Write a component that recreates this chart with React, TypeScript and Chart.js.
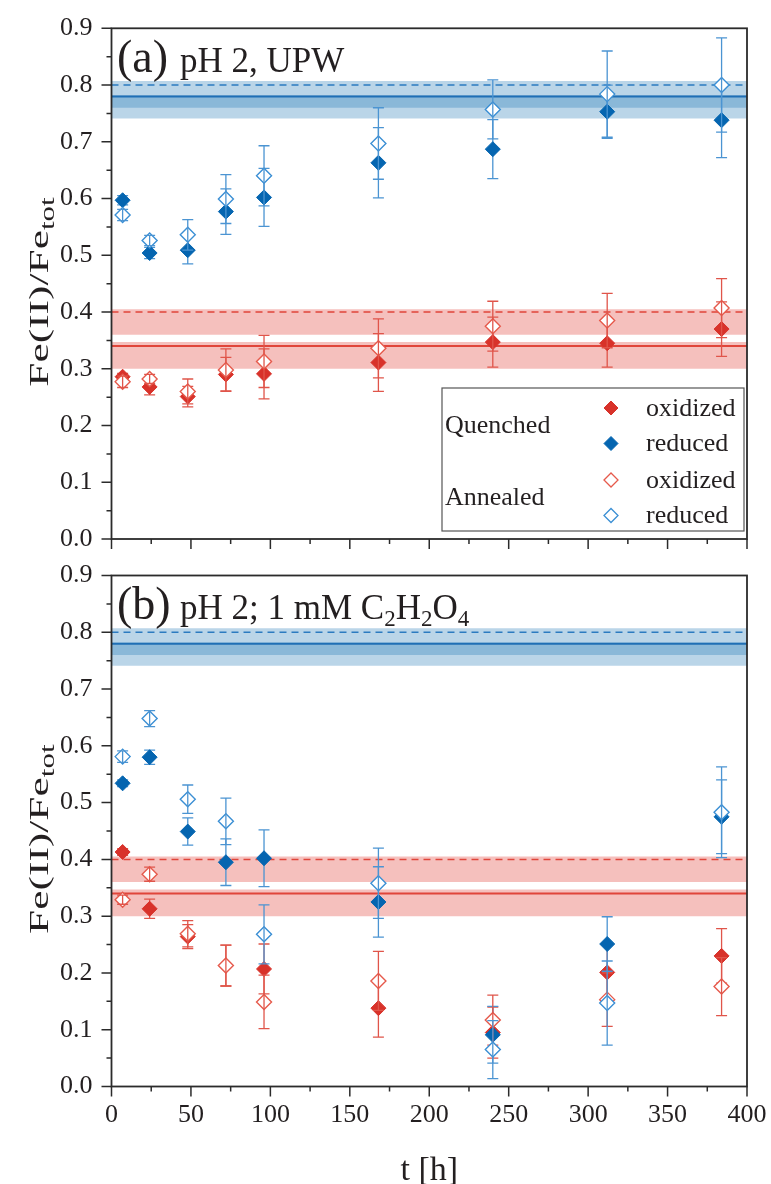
import React, { useEffect, useRef } from "react";
import { Chart, registerables } from "chart.js";

Chart.register(...registerables);

// ---------- data ----------
const times = [7, 24, 48, 72, 96, 168, 240, 312, 384];
const xRange = [0, 400];
const yRange = [0, 0.9];

// Panel (a): pH 2, UPW
const aQuenchedOxidized = [0.286, 0.268, 0.251, 0.29, 0.291, 0.311, 0.347, 0.345, 0.37];
const aQuenchedOxidizedErr = [0.006, 0.014, 0.018, 0.03, 0.044, 0.051, 0.044, 0.042, 0.048];
const aQuenchedReduced = [0.597, 0.504, 0.509, 0.577, 0.602, 0.663, 0.687, 0.753, 0.738];
const aQuenchedReducedErr = [0.008, 0.01, 0.024, 0.04, 0.051, 0.062, 0.052, 0.047, 0.066];
const aAnnealedOxidized = [0.277, 0.282, 0.26, 0.298, 0.313, 0.336, 0.375, 0.385, 0.407];
const aAnnealedOxidizedErr = [0.01, 0.008, 0.022, 0.037, 0.046, 0.052, 0.044, 0.048, 0.052];
const aAnnealedReduced = [0.571, 0.526, 0.536, 0.599, 0.64, 0.697, 0.757, 0.784, 0.8];
const aAnnealedReducedErr = [0.01, 0.009, 0.027, 0.043, 0.053, 0.063, 0.052, 0.076, 0.083];

// Panel (b): pH 2; 1 mM C2H2O4
const bQuenchedOxidized = [0.413, 0.313, 0.264, 0.213, 0.207, 0.138, 0.095, 0.201, 0.23];
const bQuenchedOxidizedErr = [0.006, 0.017, 0.021, 0.036, 0.044, 0.051, 0.045, 0.048, 0.048];
const bQuenchedReduced = [0.534, 0.58, 0.449, 0.395, 0.402, 0.325, 0.091, 0.251, 0.475];
const bQuenchedReducedErr = [0.006, 0.0125, 0.024, 0.041, 0.05, 0.062, 0.05, 0.048, 0.065];
const bAnnealedOxidized = [0.329, 0.374, 0.269, 0.213, 0.149, 0.186, 0.117, 0.153, 0.176];
const bAnnealedOxidizedErr = [0.008, 0.0125, 0.023, 0.036, 0.047, 0.052, 0.044, 0.047, 0.051];
const bAnnealedReduced = [0.581, 0.648, 0.506, 0.467, 0.268, 0.358, 0.065, 0.147, 0.483];
const bAnnealedReducedErr = [0.01, 0.014, 0.025, 0.041, 0.052, 0.062, 0.051, 0.074, 0.08];

// Reference levels and bands (both panels)
const oxidizedRefSolid = 0.34;
const oxidizedRefDashed = 0.4;
const reducedRefSolid = 0.78;
const reducedRefDashed = 0.8;
const oxidizedBandSolid = [0.3, 0.347];
const oxidizedBandDashed = [0.36, 0.405];
const reducedBandSolid = [0.741, 0.782];
const reducedBandDashed = [0.76, 0.807];

// ---------- styles ----------
const FONT = '"Liberation Serif", "Times New Roman", serif';
const TEXT = "#231f20";
const RED = "#d8322a";
const BLUE = "#0565b0";
const RED_OPEN = "#e65a4c";
const BLUE_OPEN = "#3b8fd4";
const RED_ERR = "#e0554a";
const BLUE_ERR = "#4b94d2";

const W = 771;
const PLOT_LEFT = 111.5;
const PLOT_RIGHT = 747;

function points(ys: number[], errs: number[]) {
  return times.map((t, i) => ({ x: t, y: ys[i], e: errs[i] }));
}

function markerSet(label: string, ys: number[], errs: number[], open: boolean, color: string, errColor: string, order: number) {
  return {
    type: "scatter",
    label,
    data: points(ys, errs),
    errorColor: errColor,
    errorOnTop: open,
    pointStyle: "rectRot",
    pointRadius: 7.5,
    pointHoverRadius: 7.5,
    pointBorderWidth: open ? 1.4 : 1,
    pointBackgroundColor: open ? "#ffffff" : color,
    pointBorderColor: color,
    showLine: false,
    order,
  };
}

function bandSet(band: number[], color: string) {
  return {
    type: "line",
    data: [
      { x: xRange[0], y: band[1] },
      { x: xRange[1], y: band[1] },
    ],
    fill: { value: band[0] },
    backgroundColor: color,
    borderWidth: 0,
    pointRadius: 0,
    order: 20,
  };
}

function levelSet(v: number, color: string, dashed: boolean) {
  return {
    type: "line",
    data: [
      { x: xRange[0], y: v },
      { x: xRange[1], y: v },
    ],
    fill: false,
    borderColor: color,
    borderWidth: dashed ? 1.5 : 2,
    borderDash: dashed ? [7, 5] : [],
    pointRadius: 0,
    order: 15,
  };
}

function drawErrors(chart: any, index: number) {
  const ds = chart.data.datasets[index];
  if (!ds.errorColor) return;
  const ctx = chart.ctx;
  const xs = chart.scales.x;
  const ys = chart.scales.y;
  ctx.save();
  ctx.strokeStyle = ds.errorColor;
  ctx.lineWidth = 1.3;
  ds.data.forEach((p: any) => {
    const x = xs.getPixelForValue(p.x);
    const y1 = ys.getPixelForValue(p.y + p.e);
    const y2 = ys.getPixelForValue(p.y - p.e);
    ctx.beginPath();
    ctx.moveTo(x, y1);
    ctx.lineTo(x, y2);
    ctx.moveTo(x - 5.5, y1);
    ctx.lineTo(x + 5.5, y1);
    ctx.moveTo(x - 5.5, y2);
    ctx.lineTo(x + 5.5, y2);
    ctx.stroke();
  });
  ctx.restore();
}

const errorBarPlugin = {
  id: "errorBars",
  beforeDatasetDraw(chart: any, args: any) {
    const ds = chart.data.datasets[args.index];
    if (ds.errorColor && !ds.errorOnTop) drawErrors(chart, args.index);
  },
  afterDatasetDraw(chart: any, args: any) {
    const ds = chart.data.datasets[args.index];
    if (ds.errorColor && ds.errorOnTop) drawErrors(chart, args.index);
  },
};

const framePlugin = {
  id: "frame",
  afterDraw(chart: any) {
    const { ctx, chartArea } = chart;
    const xs = chart.scales.x;
    const ys = chart.scales.y;
    ctx.save();
    ctx.strokeStyle = "#2b2b2b";
    ctx.lineWidth = 1.8;
    ctx.strokeRect(chartArea.left, chartArea.top, chartArea.right - chartArea.left, chartArea.bottom - chartArea.top);
    ctx.lineWidth = 1.5;
    ctx.beginPath();
    for (let i = 0; i <= 18; i++) {
      const y = ys.getPixelForValue((i * 0.9) / 18);
      const len = i % 2 === 0 ? 10 : 5;
      ctx.moveTo(chartArea.left, y);
      ctx.lineTo(chartArea.left - len, y);
    }
    for (let i = 0; i <= 16; i++) {
      const x = xs.getPixelForValue((i * 400) / 16);
      const len = i % 2 === 0 ? 10 : 5;
      ctx.moveTo(x, chartArea.bottom);
      ctx.lineTo(x, chartArea.bottom + len);
    }
    ctx.stroke();
    ctx.restore();
  },
};

type Part = { t: string; size: number; dy?: number };

function drawRich(ctx: any, parts: Part[], x: number, y: number) {
  let cx = x;
  parts.forEach((p) => {
    ctx.font = `${p.size}px ${FONT}`;
    ctx.fillText(p.t, cx, y + (p.dy || 0));
    cx += ctx.measureText(p.t).width;
  });
}

function drawYTitle(ctx: any, cx: number, cy: number) {
  ctx.save();
  ctx.translate(cx, cy);
  ctx.rotate(-Math.PI / 2);
  ctx.scale(1.55, 1);
  ctx.fillStyle = TEXT;
  ctx.textBaseline = "alphabetic";
  ctx.textAlign = "left";
  ctx.font = `28px ${FONT}`;
  const w1 = ctx.measureText("Fe(II)/Fe").width;
  ctx.font = `20px ${FONT}`;
  const w2 = ctx.measureText("tot").width;
  drawRich(
    ctx,
    [
      { t: "Fe(II)/Fe", size: 28 },
      { t: "tot", size: 20, dy: 6 },
    ],
    -(w1 + w2) / 2,
    0
  );
  ctx.restore();
}

function diamond(ctx: any, x: number, y: number, r: number, fill: string, stroke: string, lw: number) {
  ctx.beginPath();
  ctx.moveTo(x - r, y);
  ctx.lineTo(x, y - r);
  ctx.lineTo(x + r, y);
  ctx.lineTo(x, y + r);
  ctx.closePath();
  ctx.fillStyle = fill;
  ctx.fill();
  ctx.lineWidth = lw;
  ctx.strokeStyle = stroke;
  ctx.stroke();
}

function makeTextPlugin(panel: "a" | "b") {
  return {
    id: "texts" + panel,
    afterDraw(chart: any) {
      const ctx = chart.ctx;
      const top = chart.chartArea.top;
      ctx.save();
      ctx.fillStyle = TEXT;
      ctx.textBaseline = "alphabetic";
      ctx.textAlign = "left";
      const base = top + 43.7;
      if (panel === "a") {
        drawRich(ctx, [{ t: "(a)", size: 46 }], 117, base);
        drawRich(ctx, [{ t: "pH 2, UPW", size: 35 }], 180, base);
      } else {
        drawRich(ctx, [{ t: "(b)", size: 46 }], 117, base);
        drawRich(
          ctx,
          [
            { t: "pH 2; 1 mM C", size: 35 },
            { t: "2", size: 23, dy: 7 },
            { t: "H", size: 35 },
            { t: "2", size: 23, dy: 7 },
            { t: "O", size: 35 },
            { t: "4", size: 23, dy: 7 },
          ],
          180,
          base
        );
      }
      drawYTitle(ctx, 48, top + 263.7);

      if (panel === "a") {
        // legend
        ctx.strokeStyle = "#555";
        ctx.lineWidth = 1.2;
        ctx.strokeRect(442, 388, 302, 143);
        ctx.fillStyle = TEXT;
        drawRich(ctx, [{ t: "Quenched", size: 26 }], 445, 433);
        drawRich(ctx, [{ t: "Annealed", size: 26 }], 445, 505);
        const rows = [
          { y: 408, t: "oxidized", fill: RED, stroke: RED, lw: 1 },
          { y: 443.5, t: "reduced", fill: BLUE, stroke: BLUE, lw: 1 },
          { y: 480, t: "oxidized", fill: "#fff", stroke: RED_OPEN, lw: 1.3 },
          { y: 515.5, t: "reduced", fill: "#fff", stroke: BLUE_OPEN, lw: 1.3 },
        ];
        rows.forEach((r) => {
          diamond(ctx, 611, r.y, 7, r.fill, r.stroke, r.lw);
          ctx.fillStyle = TEXT;
          drawRich(ctx, [{ t: r.t, size: 26 }], 646, r.y + 7.5);
        });
      } else {
        ctx.textAlign = "center";
        ctx.font = `34px ${FONT}`;
        ctx.fillText("t [h]", (PLOT_LEFT + PLOT_RIGHT) / 2, 620);
      }
      ctx.restore();
    },
  };
}

function makeConfig(panel: "a" | "b", height: number) {
  const isA = panel === "a";
  const qo = isA ? aQuenchedOxidized : bQuenchedOxidized;
  const qoe = isA ? aQuenchedOxidizedErr : bQuenchedOxidizedErr;
  const qr = isA ? aQuenchedReduced : bQuenchedReduced;
  const qre = isA ? aQuenchedReducedErr : bQuenchedReducedErr;
  const ao = isA ? aAnnealedOxidized : bAnnealedOxidized;
  const aoe = isA ? aAnnealedOxidizedErr : bAnnealedOxidizedErr;
  const ar = isA ? aAnnealedReduced : bAnnealedReduced;
  const are = isA ? aAnnealedReducedErr : bAnnealedReducedErr;

  const top = isA ? 28.3 : 15.5;
  const plotBottom = isA ? 539 : 526.5;
  const xHeight = height - plotBottom;

  return {
    type: "scatter",
    data: {
      datasets: [
        bandSet(reducedBandSolid, "rgba(31,119,180,0.31)"),
        bandSet(reducedBandDashed, "rgba(31,119,180,0.31)"),
        bandSet(oxidizedBandSolid, "rgba(224,60,50,0.32)"),
        bandSet(oxidizedBandDashed, "rgba(224,60,50,0.32)"),
        levelSet(reducedRefSolid, "#1f6fb5", false),
        levelSet(reducedRefDashed, "#2b7bc0", true),
        levelSet(oxidizedRefSolid, "#e0453a", false),
        levelSet(oxidizedRefDashed, "#e0453a", true),
        markerSet("Quenched oxidized", qo, qoe, false, RED, RED_ERR, 4),
        markerSet("Quenched reduced", qr, qre, false, BLUE, BLUE_ERR, 3),
        markerSet("Annealed oxidized", ao, aoe, true, RED_OPEN, RED_ERR, 2),
        markerSet("Annealed reduced", ar, are, true, BLUE_OPEN, BLUE_ERR, 1),
      ],
    },
    options: {
      animation: false,
      responsive: false,
      maintainAspectRatio: false,
      devicePixelRatio: 1,
      layout: { padding: { left: 0, right: W - PLOT_RIGHT, top, bottom: 0 } },
      plugins: {
        legend: { display: false },
        tooltip: { enabled: false },
      },
      scales: {
        x: {
          type: "linear",
          min: xRange[0],
          max: xRange[1],
          afterFit: (s: any) => {
            s.height = xHeight;
          },
          grid: { display: false, drawTicks: true, tickLength: 13 },
          border: { display: false },
          ticks: {
            display: !isA,
            stepSize: 50,
            autoSkip: false,
            maxRotation: 0,
            padding: 0,
            color: TEXT,
            font: { family: FONT, size: 26 },
          },
        },
        y: {
          type: "linear",
          min: yRange[0],
          max: yRange[1],
          afterFit: (s: any) => {
            s.width = PLOT_LEFT;
          },
          grid: { display: false, drawTicks: true, tickLength: 19 },
          border: { display: false },
          ticks: {
            stepSize: 0.1,
            autoSkip: false,
            padding: 0,
            color: TEXT,
            font: { family: FONT, size: 26, lineHeight: 1.1 },
            callback: (v: any) => Number(v).toFixed(1),
          },
        },
      },
    },
    plugins: [errorBarPlugin, framePlugin, makeTextPlugin(panel)],
  };
}

function Panel({ panel, top, height }: { panel: "a" | "b"; top: number; height: number }) {
  const ref = useRef<HTMLCanvasElement | null>(null);
  useEffect(() => {
    if (!ref.current) return;
    const chart = new Chart(ref.current, makeConfig(panel, height) as any);
    return () => chart.destroy();
  }, [panel, height]);
  return (
    <canvas
      ref={ref}
      width={W}
      height={height}
      style={{ position: "absolute", left: 0, top, width: W, height, display: "block" }}
    />
  );
}

export default function App() {
  return (
    <div
      style={{
        position: "absolute",
        left: 0,
        top: 0,
        width: W,
        height: 1184,
        overflow: "hidden",
        background: "#ffffff",
      }}
    >
      <Panel panel="a" top={0} height={560} />
      <Panel panel="b" top={560} height={624} />
    </div>
  );
}
